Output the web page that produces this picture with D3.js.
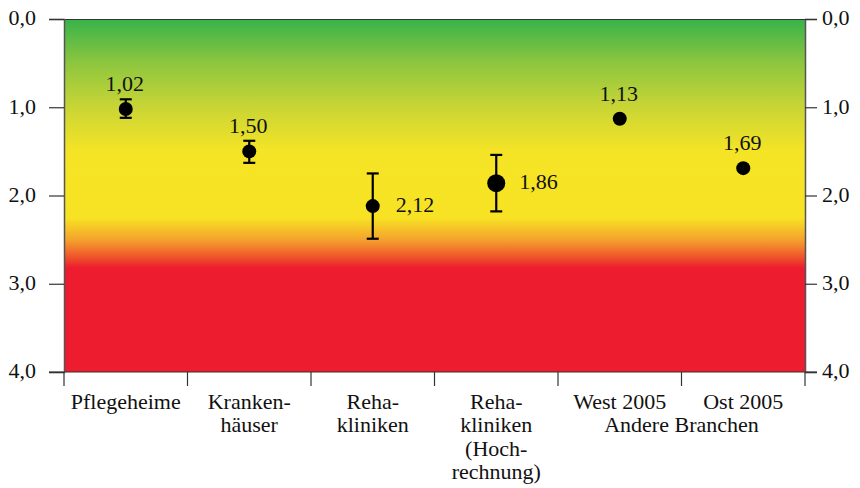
<!DOCTYPE html>
<html><head><meta charset="utf-8">
<script src="https://cdn.jsdelivr.net/npm/d3@7"></script>
<style>body{margin:0;background:#fff}svg text{font-family:"Liberation Serif","Times New Roman",Times,serif !important;fill:#111}</style>
</head><body><svg id="c" width="860" height="488"></svg>
<script>
const categories = [["Pflegeheime"],["Kranken-","häuser"],["Reha-","kliniken"],["Reha-","kliniken","(Hoch-","rechnung)"],["West 2005"],["Ost 2005"]];
const values = [1.02, 1.50, 2.12, 1.86, 1.13, 1.69];
const errLow = [0.91, 1.38, 1.75, 1.54, null, null];
const errHigh = [1.12, 1.63, 2.49, 2.18, null, null];
const labelPos = ["top","top","right","right","top","top"];
const bigDot = [false,false,false,true,false,false];
const yTicks = [0,1,2,3,4];
const groupLabel = "Andere Branchen";

const FS = "22px";
const svg = d3.select("#c");
const L=64, R=805, T=19, B=372;
const x = d3.scaleBand().domain(d3.range(categories.length)).range([L,R]);
const y = d3.scaleLinear().domain([0,4]).range([T,B]);
const fmt = v => d3.format(".1f")(v).replace(".",",");
const fmt2 = v => d3.format(".2f")(v).replace(".",",");

const defs = svg.append("defs");
const g = defs.append("linearGradient").attr("id","grad").attr("x1",0).attr("y1",0).attr("x2",0).attr("y2",1);
const stops = [[0,"#37b34a"],[0.5,"#8dc63f"],[1.0,"#c9d535"],[1.5,"#f5e426"],[2.25,"#f7e323"],[2.5,"#f4a32d"],[2.72,"#ee4a2b"],[2.82,"#ed1c2e"],[4,"#ed1c2e"]];
stops.forEach(s=>g.append("stop").attr("offset",s[0]/4).attr("stop-color",s[1]));
svg.append("rect").attr("x",L).attr("y",T).attr("width",R-L).attr("height",B-T).attr("fill","url(#grad)");
svg.append("line").attr("x1",L).attr("x2",R).attr("y1",T+0.5).attr("y2",T+0.5).attr("stroke","#333").attr("stroke-width",1);

const axL = svg.append("g").attr("transform",`translate(${L},0)`).call(d3.axisLeft(y).tickValues(yTicks).tickFormat(fmt).tickSize(15).tickPadding(13));
const axR = svg.append("g").attr("transform",`translate(${R},0)`).call(d3.axisRight(y).tickValues(yTicks).tickFormat(fmt).tickSize(12).tickPadding(5));
[axL,axR].forEach(a=>{a.attr("font-family",null).attr("font-size",null);a.select(".domain").attr("stroke","#555").attr("stroke-width",1.5);a.selectAll(".tick line").attr("stroke","#333").attr("stroke-width",1.2);a.selectAll("text").style("font-size",FS).attr("fill","#111").attr("dy","0.27em");});

// bottom axis line and tick marks at category boundaries
svg.append("line").attr("x1",L-15).attr("x2",R+12).attr("y1",B).attr("y2",B).attr("stroke","#333").attr("stroke-width",1.2);
const bounds = d3.range(categories.length+1).map(i=> i<categories.length ? x(i) : x(i-1)+x.bandwidth());
svg.selectAll(".xt").data(bounds).join("line").attr("x1",d=>d).attr("x2",d=>d).attr("y1",B).attr("y2",B+14).attr("stroke","#333").attr("stroke-width",1.2);

// category labels
categories.forEach((lines,i)=>{
  const cx = x(i)+x.bandwidth()/2;
  const t = svg.append("text").attr("x",cx).attr("y",409).attr("text-anchor","middle").style("font-size",FS);
  lines.forEach((ln,j)=>t.append("tspan").attr("x",cx).attr("dy",j?23.3:0).text(ln));
});
svg.append("text").attr("x",(x(4)+x(5)+x.bandwidth())/2).attr("y",432.3).attr("text-anchor","middle").style("font-size",FS).text(groupLabel);

// error bars, points, value labels
values.forEach((v,i)=>{
  const cx = x(i)+x.bandwidth()/2;
  if(errLow[i]!=null){
    const e = svg.append("g").attr("stroke","#000").attr("stroke-width",2.2);
    e.append("line").attr("x1",cx).attr("x2",cx).attr("y1",y(errLow[i])).attr("y2",y(errHigh[i]));
    [errLow[i],errHigh[i]].forEach(ev=>e.append("line").attr("x1",cx-6).attr("x2",cx+6).attr("y1",y(ev)).attr("y2",y(ev)));
  }
  svg.append("circle").attr("cx",cx).attr("cy",y(v)).attr("r",bigDot[i]?9:7).attr("fill","#000");
  const lab = svg.append("text").style("font-size",FS).text(fmt2(v));
  if(labelPos[i]==="top"){
    lab.attr("x",cx-1).attr("y",y(v)-18).attr("text-anchor","middle");
  } else {
    lab.attr("x",cx+23).attr("y",y(v)+6).attr("text-anchor","start");
  }
});
</script></body></html>
